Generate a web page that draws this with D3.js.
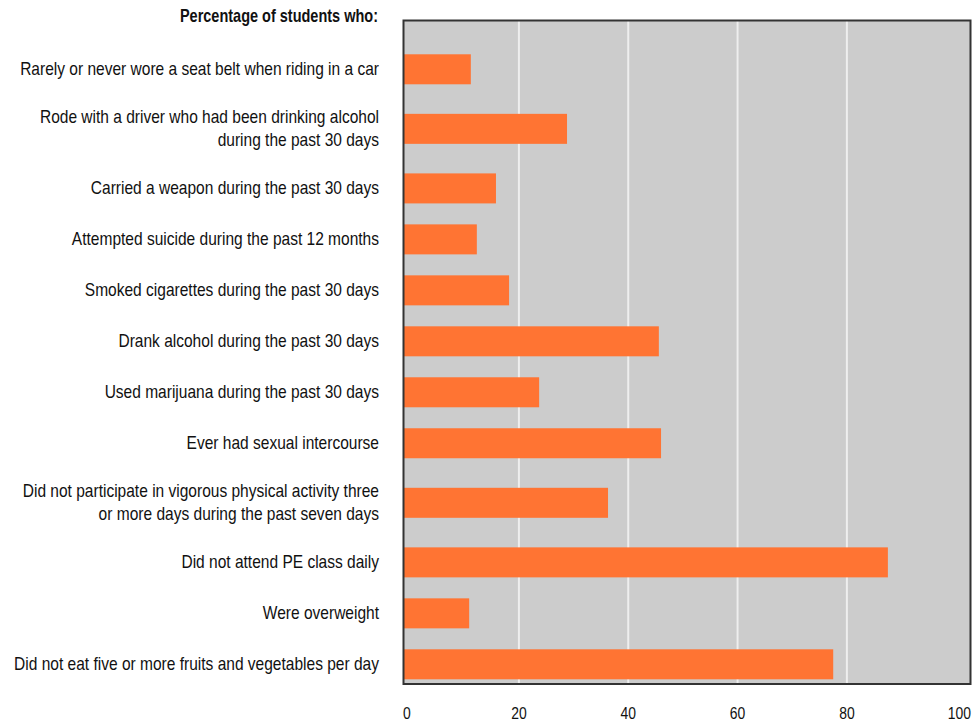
<!DOCTYPE html>
<html>
<head>
<meta charset="utf-8">
<script src="https://cdn.jsdelivr.net/npm/d3@7"></script>
<style>
  html, body { margin: 0; padding: 0; background: #fff; }
  svg { display: block; }
  text { font-family: "Liberation Sans", Arial, sans-serif; fill: #111; }
</style>
</head>
<body>
<svg id="chart" width="978" height="723"></svg>
<script>
// Risk behaviours, one entry per row (top to bottom); "\n" splits a label onto two lines
const categories = [
  "Rarely or never wore a seat belt when riding in a car",
  "Rode with a driver who had been drinking alcohol\nduring the past 30 days",
  "Carried a weapon during the past 30 days",
  "Attempted suicide during the past 12 months",
  "Smoked cigarettes during the past 30 days",
  "Drank alcohol during the past 30 days",
  "Used marijuana during the past 30 days",
  "Ever had sexual intercourse",
  "Did not participate in vigorous physical activity three\nor more days during the past seven days",
  "Did not attend PE class daily",
  "Were overweight",
  "Did not eat five or more fruits and vegetables per day"
];

// Percentage of students
const percentages = [11.2, 28.8, 15.8, 12.3, 18.2, 45.6, 23.7, 46.0, 36.3, 87.5, 10.9, 77.5];

const tickValues = [0, 20, 40, 60, 80, 100];
const titleText = "Percentage of students who:";

const svg = d3.select("#chart");

// Narrow type: a regular sans squeezed horizontally
const labelSize = 18, labelSqueeze = 0.863;
const titleSqueeze = 0.806;
const tickSize = 17, tickSqueeze = 0.82;

// Plot frame
const frame = { left: 403.5, right: 970.5, top: 20.5, bottom: 684 };

// Horizontal value scale
const x = d3.scaleLinear().domain([0, 100]).range([409.6, 956.2]);

// Vertical layout: two-line labels get a taller row
const rows = categories.map(c => c.split("\n"));
const rowWeight = rows.map(lines => lines.length > 1 ? 1.337 : 1);
const cum = d3.cumsum(rowWeight);
const totalWeight = cum[cum.length - 1];
const unit = 50.97;
const yTop = 43.8;
const y = d3.scaleLinear().domain([0, totalWeight]).range([yTop, yTop + totalWeight * unit]);
const centers = rowWeight.map((w, i) => y(cum[i] - w / 2));
const barH = 30;

// Background
svg.append("rect")
  .attr("x", frame.left).attr("y", frame.top)
  .attr("width", frame.right - frame.left).attr("height", frame.bottom - frame.top)
  .attr("fill", "#cccccc");

// Vertical gridlines
svg.append("g").selectAll("line")
  .data(tickValues.filter(v => v > 0 && v < 100))
  .join("line")
  .attr("x1", d => x(d)).attr("x2", d => x(d))
  .attr("y1", frame.top).attr("y2", frame.bottom)
  .attr("stroke", "#eeeeee").attr("stroke-width", 2);

// Bars
svg.append("g").selectAll("rect")
  .data(percentages)
  .join("rect")
  .attr("x", frame.left)
  .attr("y", (d, i) => centers[i] - barH / 2)
  .attr("width", d => x(d) - frame.left)
  .attr("height", barH)
  .attr("fill", "#ff7433");

// Frame border
svg.append("rect")
  .attr("x", frame.left).attr("y", frame.top)
  .attr("width", frame.right - frame.left).attr("height", frame.bottom - frame.top)
  .attr("fill", "none").attr("stroke", "#333").attr("stroke-width", 2);

// Category labels, right-aligned beside the frame
const lineGap = 23;
const labels = svg.append("g").attr("font-size", labelSize).attr("text-anchor", "end");
rows.forEach((lines, i) => {
  lines.forEach((ln, j) => {
    const ty = centers[i] + 6 + (j - (lines.length - 1) / 2) * lineGap;
    labels.append("text")
      .attr("transform", `translate(379,${ty}) scale(${labelSqueeze},1)`)
      .text(ln);
  });
});

// Heading above the labels
svg.append("text")
  .attr("transform", `translate(378,22) scale(${titleSqueeze},1)`)
  .attr("text-anchor", "end")
  .attr("font-size", labelSize).attr("font-weight", "bold")
  .text(titleText);

// Axis tick labels; the end labels sit flush with the frame edges
svg.append("g").selectAll("text")
  .data(tickValues)
  .join("text")
  .attr("transform", (d, i) => {
    const tx = i === 0 ? frame.left - 0.5 : i === tickValues.length - 1 ? frame.right + 0.5 : x(d);
    return `translate(${tx},719) scale(${tickSqueeze},1)`;
  })
  .attr("font-size", tickSize)
  .attr("text-anchor", (d, i) => i === 0 ? "start" : i === tickValues.length - 1 ? "end" : "middle")
  .text(d => d);
</script>
</body>
</html>
